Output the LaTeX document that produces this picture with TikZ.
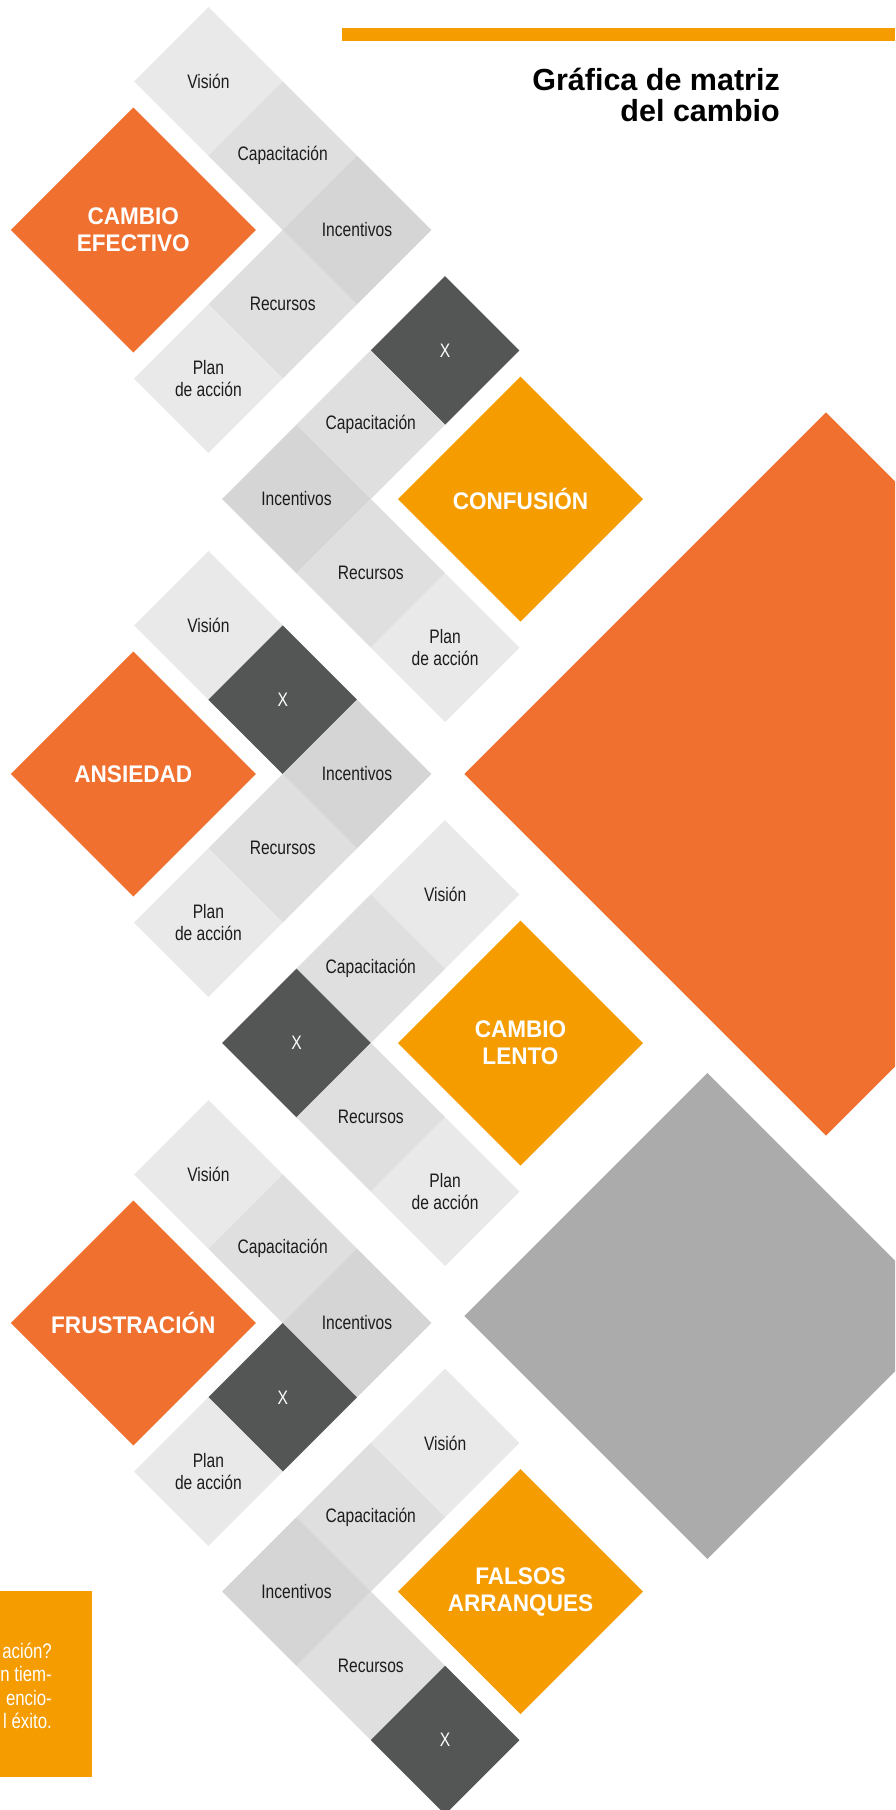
\documentclass[tikz,border=0pt]{standalone}
\usepackage{fontspec}
\setmainfont{Liberation Sans}
\newfontfamily\condfont{Liberation Sans}[FakeStretch=0.8]
\newfontfamily\heavyfont{Liberation Sans}[FakeStretch=0.94]
\usetikzlibrary{shapes.geometric}
\definecolor{cOrange}{HTML}{F07030}
\definecolor{cYellow}{HTML}{F59C00}
\definecolor{cGrayBig}{HTML}{AAABAA}
\definecolor{cDark}{HTML}{545655}
\definecolor{cLa}{HTML}{E8E9E8}
\definecolor{cLb}{HTML}{DEDFDE}
\definecolor{cLc}{HTML}{D4D5D4}
\definecolor{cText}{HTML}{1C1C1C}
\tikzset{
  dia/.style={shape=diamond, aspect=1, inner sep=0pt, outer sep=0pt,
    minimum width=148.6pt, minimum height=148.6pt,
    font=\condfont\fontsize{19.5}{21.5}\selectfont, text=cText, align=center},
  lva/.style={dia, fill=cLa},
  lvb/.style={dia, fill=cLb},
  lvc/.style={dia, fill=cLc},
  xbox/.style={dia, fill=cDark, text=white},
  bigdia/.style={shape=diamond, aspect=1, inner sep=0pt, outer sep=0pt,
    minimum width=245pt, minimum height=245pt,
    font=\heavyfont\bfseries\fontsize{24}{27}\selectfont, text=white, align=center},
  bigorange/.style={bigdia, fill=cOrange},
  bigyellow/.style={bigdia, fill=cYellow},
  backdia/.style={shape=diamond, aspect=1, inner sep=0pt, outer sep=0pt},
  titlefont/.style={font=\bfseries\fontsize{30.5}{32}\selectfont, text=black, inner sep=0pt, anchor=base east}
}
\begin{document}
\begin{tikzpicture}[x=1pt,y=-1pt]
\useasboundingbox (0,0) rectangle (895,1810);
\clip (0,0) rectangle (895,1810);
\fill[white] (0,0) rectangle (895,1810);

% background big diamonds
\node[backdia, fill=cOrange, minimum width=723.4pt, minimum height=723.4pt] (bgorange) at (826,774) {};
\node[backdia, fill=cGrayBig, minimum width=486pt, minimum height=486pt] (bggray) at (707.3,1316) {};

% top bar and title
\fill[cYellow] (342,28) rectangle (895,41);
\node[titlefont] (title1) at (780,90) {Gráfica de matriz};
\node[titlefont] (title2) at (780,121.7) {del cambio};

% Block 1
\node[lva] (b1v) at (208.4,81.4) {Visión};
\node[lvb] (b1c) at (282.7,155.7) {Capacitación};
\node[lvc] (b1i) at (357,230) {Incentivos};
\node[lvb] (b1r) at (282.7,304.3) {Recursos};
\node[lva] (b1p) at (208.4,378.6) {Plan\\de acción};
\node[bigorange] (b1big) at (133.3,230) {CAMBIO\\EFECTIVO};

% Block 2
\node[xbox] (b2x) at (445.1,350.4) {X};
\node[lvb] (b2c) at (370.8,424.7) {Capacitación};
\node[lvc] (b2i) at (296.5,499) {Incentivos};
\node[lvb] (b2r) at (370.8,573.3) {Recursos};
\node[lva] (b2p) at (445.1,647.6) {Plan\\de acción};
\node[bigyellow] (b2big) at (520.5,499) {CONFUSIÓN};

% Block 3
\node[lva] (b3v) at (208.4,625.4) {Visión};
\node[xbox] (b3x) at (282.7,699.7) {X};
\node[lvc] (b3i) at (357,774) {Incentivos};
\node[lvb] (b3r) at (282.7,848.3) {Recursos};
\node[lva] (b3p) at (208.4,922.6) {Plan\\de acción};
\node[bigorange] (b3big) at (133.3,774) {ANSIEDAD};

% Block 4
\node[lva] (b4v) at (445.1,894.4) {Visión};
\node[lvb] (b4c) at (370.8,968.7) {Capacitación};
\node[xbox] (b4x) at (296.5,1043) {X};
\node[lvb] (b4r) at (370.8,1117.3) {Recursos};
\node[lva] (b4p) at (445.1,1191.6) {Plan\\de acción};
\node[bigyellow] (b4big) at (520.5,1043) {CAMBIO\\LENTO};

% Block 5
\node[lva] (b5v) at (208.4,1174.4) {Visión};
\node[lvb] (b5c) at (282.7,1248.7) {Capacitación};
\node[lvc] (b5i) at (357,1323) {Incentivos};
\node[xbox] (b5x) at (282.7,1397.3) {X};
\node[lva] (b5p) at (208.4,1471.6) {Plan\\de acción};
\node[bigorange] (b5big) at (133.3,1323) {FRUSTRACIÓN};

% Block 6
\node[lva] (b6v) at (445.1,1442.9) {Visión};
\node[lvb] (b6c) at (370.8,1517.2) {Capacitación};
\node[lvc] (b6i) at (296.5,1591.5) {Incentivos};
\node[lvb] (b6r) at (370.8,1665.8) {Recursos};
\node[xbox] (b6x) at (445.1,1740.1) {X};
\node[bigyellow] (b6big) at (520.5,1591.5) {FALSOS\\ARRANQUES};

% text box bottom left
\fill[cYellow] (0,1591) rectangle (91.7,1776.7);
\node[anchor=east, inner sep=0pt, align=right, text=white,
  font=\condfont\fontsize{21}{23.5}\selectfont] (note) at (52,1686)
  {ación?\\n tiem-\\encio-\\l éxito.};
\end{tikzpicture}
\end{document}
